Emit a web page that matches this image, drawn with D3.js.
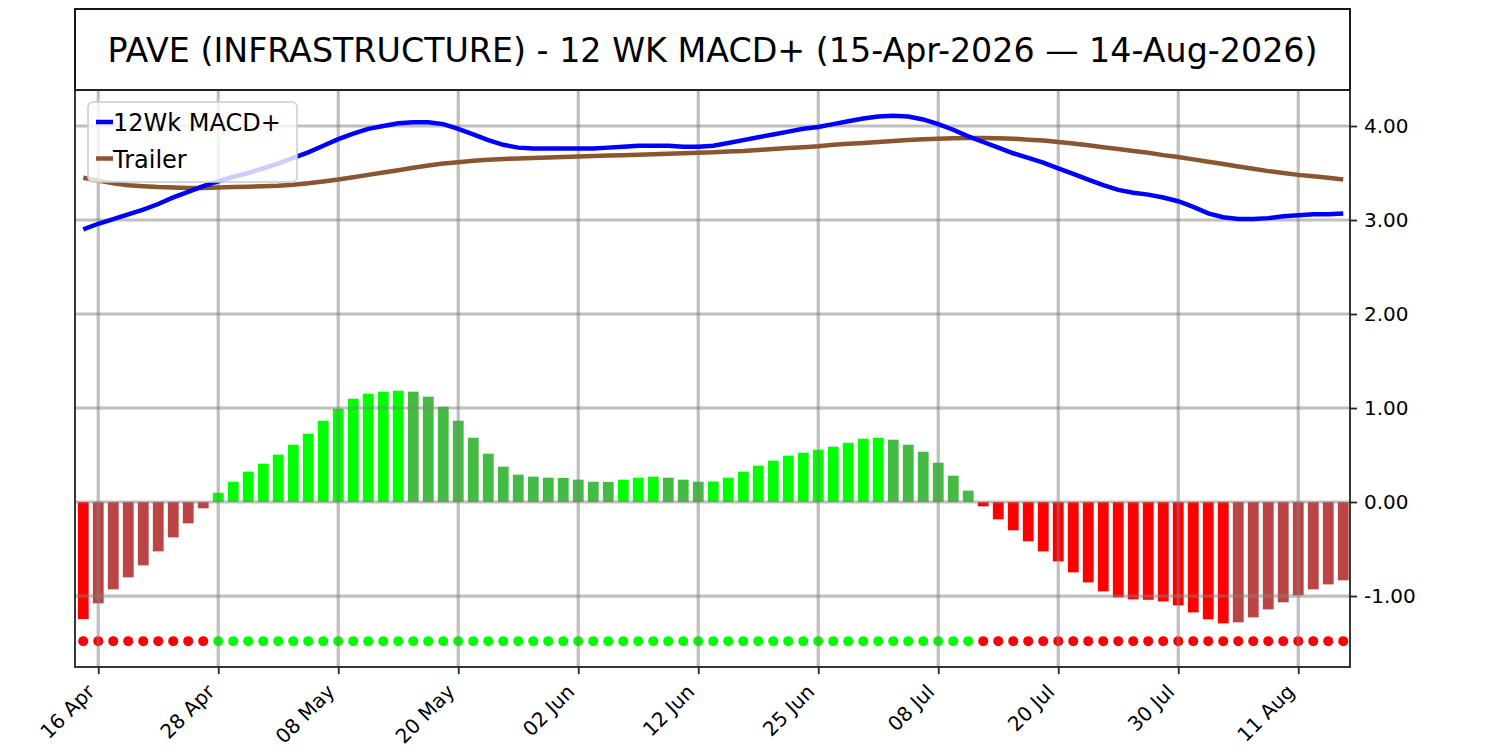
<!DOCTYPE html>
<html>
<head>
<meta charset="utf-8">
<script src="https://cdn.jsdelivr.net/npm/d3@7"></script>
<style>
  body { margin: 0; background: #ffffff; }
  svg text { font-family: "DejaVu Sans", sans-serif; }
</style>
</head>
<body>
<div id="chart-area"></div>
<script>

// Trading days shown on the chart (15 Apr 2026 - 14 Aug 2026)
var dates = [
  "15 Apr","16 Apr","17 Apr","20 Apr","21 Apr","22 Apr","23 Apr","24 Apr","27 Apr","28 Apr","29 Apr","30 Apr",
  "01 May","04 May","05 May","06 May","07 May","08 May","11 May","12 May","13 May","14 May","15 May","18 May",
  "19 May","20 May","21 May","22 May","26 May","27 May","28 May","29 May",
  "01 Jun","02 Jun","03 Jun","04 Jun","05 Jun","08 Jun","09 Jun","10 Jun","11 Jun","12 Jun","15 Jun","16 Jun",
  "17 Jun","18 Jun","22 Jun","23 Jun","24 Jun","25 Jun","26 Jun","29 Jun","30 Jun",
  "01 Jul","02 Jul","06 Jul","07 Jul","08 Jul","09 Jul","10 Jul","13 Jul","14 Jul","15 Jul","16 Jul","17 Jul",
  "20 Jul","21 Jul","22 Jul","23 Jul","24 Jul","27 Jul","28 Jul","29 Jul","30 Jul","31 Jul",
  "03 Aug","04 Aug","05 Aug","06 Aug","07 Aug","10 Aug","11 Aug","12 Aug","13 Aug","14 Aug"
];

// 12Wk MACD+ line
var macdValues = [
  2.90, 2.96, 3.01, 3.06, 3.11, 3.17, 3.24, 3.30, 3.36, 3.41,
  3.46, 3.50, 3.55, 3.60, 3.66, 3.72, 3.79, 3.86, 3.92, 3.97,
  4.00, 4.03, 4.04, 4.04, 4.02, 3.97, 3.91, 3.85, 3.80, 3.77,
  3.76, 3.76, 3.76, 3.76, 3.76, 3.77, 3.78, 3.79, 3.79, 3.79,
  3.78, 3.78, 3.79, 3.82, 3.85, 3.88, 3.91, 3.94, 3.97, 3.99,
  4.02, 4.05, 4.08, 4.10, 4.11, 4.10, 4.07, 4.02, 3.96, 3.89,
  3.83, 3.77, 3.71, 3.66, 3.61, 3.55, 3.49, 3.43, 3.37, 3.32,
  3.29, 3.27, 3.24, 3.20, 3.14, 3.07, 3.03, 3.01, 3.01, 3.02,
  3.04, 3.05, 3.06, 3.06, 3.07
];

// Trailer (signal) line
var trailerValues = [
  3.45, 3.42, 3.39, 3.37, 3.36, 3.35, 3.345, 3.34, 3.34, 3.345,
  3.35, 3.355, 3.36, 3.365, 3.375, 3.39, 3.41, 3.43, 3.455, 3.48,
  3.505, 3.53, 3.555, 3.58, 3.60, 3.615, 3.63, 3.64, 3.65, 3.655,
  3.66, 3.665, 3.67, 3.675, 3.68, 3.685, 3.69, 3.695, 3.70, 3.705,
  3.71, 3.715, 3.72, 3.73, 3.735, 3.745, 3.755, 3.765, 3.775, 3.785,
  3.80, 3.81, 3.82, 3.83, 3.84, 3.85, 3.86, 3.865, 3.87, 3.872,
  3.873, 3.87, 3.865, 3.855, 3.845, 3.83, 3.815, 3.795, 3.775, 3.755,
  3.735, 3.715, 3.69, 3.67, 3.645, 3.62, 3.595, 3.57, 3.545, 3.52,
  3.50, 3.48, 3.465, 3.45, 3.43
];

// Histogram
var histValues = [
  -1.245, -1.078, -0.929, -0.801, -0.674, -0.525, -0.376, -0.227, -0.067, 0.099,
  0.216, 0.323, 0.408, 0.504, 0.610, 0.727, 0.865, 0.993, 1.099, 1.152,
  1.174, 1.184, 1.174, 1.121, 1.014, 0.865, 0.684, 0.514, 0.376, 0.291,
  0.270, 0.259, 0.256, 0.238, 0.216, 0.213, 0.238, 0.259, 0.270, 0.259,
  0.238, 0.216, 0.219, 0.259, 0.323, 0.387, 0.440, 0.493, 0.525, 0.557,
  0.589, 0.631, 0.674, 0.684, 0.663, 0.610, 0.535, 0.418, 0.280, 0.121,
  -0.046, -0.184, -0.301, -0.418, -0.525, -0.631, -0.748, -0.855, -0.950, -1.014,
  -1.035, -1.040, -1.057, -1.099, -1.174, -1.248, -1.291, -1.280, -1.227, -1.142,
  -1.067, -0.993, -0.929, -0.876, -0.833
];

// Level of the signal dot row
var dotLevel = -1.48;

var yTicks = [-1, 0, 1, 2, 3, 4];
var tickEvery = 8, firstTick = 1;

var titleText = "PAVE (INFRASTRUCTURE) - 12 WK MACD+ (15-Apr-2026 \u2014 14-Aug-2026)";
var seriesNames = ["12Wk MACD+", "Trailer"];


// Layout
var width = 1500, height = 750;
var plot = {left: 75, right: 1350, top: 90, bottom: 667};
var titleBox = {top: 9, bottom: 90};

var svg = d3.select("#chart-area").append("svg")
    .attr("width", width)
    .attr("height", height);

// Scales
var x = d3.scaleLinear()
    .domain([-0.55, dates.length - 0.55])
    .range([plot.left, plot.right]);

var y = d3.scaleLinear()
    .domain([-1.755, 4.383])
    .range([plot.bottom, plot.top]);

var data = dates.map(function(d, i){
  return {i: i, date: d, macd: macdValues[i], trailer: trailerValues[i], hist: histValues[i]};
});

// Bar colours: bright when moving away from zero, muted when coming back
function barColor(d){
  var prev = d.i > 0 ? histValues[d.i - 1] : null;
  if(d.hist < 0){
    return (prev !== null && d.hist > prev) ? "#bb4444" : "#ff0000";
  }
  return (prev === null || d.hist > prev) ? "#00ff00" : "#44bb44";
}

var bw = (x(1) - x(0)) * 0.72;

// Title box
svg.append("rect")
    .attr("x", plot.left)
    .attr("y", titleBox.top)
    .attr("width", plot.right - plot.left)
    .attr("height", titleBox.bottom - titleBox.top)
    .attr("fill", "none")
    .attr("stroke", "#000")
    .attr("stroke-width", 1.8);

svg.append("text")
    .attr("x", (plot.left + plot.right) / 2)
    .attr("y", 61.5)
    .attr("text-anchor", "middle")
    .attr("font-size", 33.3)
    .attr("fill", "#000")
    .text(titleText);

var g = svg.append("g");

// Histogram bars
g.selectAll("rect.bar").data(data).enter().append("rect")
    .attr("class", "bar")
    .attr("x", function(d){ return x(d.i) - bw / 2; })
    .attr("width", bw)
    .attr("y", function(d){ return y(Math.max(0, d.hist)); })
    .attr("height", function(d){ return Math.abs(y(d.hist) - y(0)); })
    .attr("fill", barColor);

// Dot row
g.selectAll("circle.dot").data(data).enter().append("circle")
    .attr("class", "dot")
    .attr("cx", function(d){ return x(d.i); })
    .attr("cy", y(dotLevel))
    .attr("r", 5)
    .attr("fill", function(d){ return d.hist < 0 ? "#ff0000" : "#00ff00"; });

// Grid (above the bars, below the lines)
var tickIdx = d3.range(firstTick, dates.length, tickEvery);

g.selectAll("line.hgrid").data(yTicks).enter().append("line")
    .attr("x1", plot.left).attr("x2", plot.right)
    .attr("y1", function(d){ return y(d); })
    .attr("y2", function(d){ return y(d); })
    .attr("stroke", "#808080")
    .attr("stroke-opacity", 0.5)
    .attr("stroke-width", 3.2);

g.selectAll("line.vgrid").data(tickIdx).enter().append("line")
    .attr("x1", function(d){ return x(d); })
    .attr("x2", function(d){ return x(d); })
    .attr("y1", plot.top).attr("y2", plot.bottom)
    .attr("stroke", "#808080")
    .attr("stroke-opacity", 0.5)
    .attr("stroke-width", 3.2);

// Lines
var macdLine = d3.line().x(function(d){ return x(d.i); }).y(function(d){ return y(d.macd); });
var trailerLine = d3.line().x(function(d){ return x(d.i); }).y(function(d){ return y(d.trailer); });

g.append("path").datum(data)
    .attr("d", trailerLine)
    .attr("fill", "none")
    .attr("stroke", "#8b552d")
    .attr("stroke-width", 4.5);

g.append("path").datum(data)
    .attr("d", macdLine)
    .attr("fill", "none")
    .attr("stroke", "#0000ff")
    .attr("stroke-width", 4.5);

// Frame
svg.append("rect")
    .attr("x", plot.left)
    .attr("y", plot.top)
    .attr("width", plot.right - plot.left)
    .attr("height", plot.bottom - plot.top)
    .attr("fill", "none")
    .attr("stroke", "#222")
    .attr("stroke-width", 1.8);

// Right y axis (plain hyphen for negatives)
var yAxis = d3.axisRight(y)
    .tickValues(yTicks)
    .tickFormat(function(d){ return d.toFixed(2); })
    .tickSize(7)
    .tickPadding(7);

svg.append("g")
    .attr("class", "y-axis")
    .attr("transform", "translate(" + plot.right + ",0)")
    .call(yAxis)
    .call(function(a){
      a.select(".domain").remove();
      a.selectAll(".tick line").attr("stroke", "#222").attr("stroke-width", 1.8);
      a.selectAll(".tick text").attr("font-size", 20).attr("fill", "#000")
        .attr("font-family", "DejaVu Sans");
    });

// Bottom x axis
var xAxis = d3.axisBottom(x)
    .tickValues(tickIdx)
    .tickFormat(function(d){ return dates[d]; })
    .tickSize(7);

svg.append("g")
    .attr("class", "x-axis")
    .attr("transform", "translate(0," + plot.bottom + ")")
    .call(xAxis)
    .call(function(a){
      a.select(".domain").remove();
      a.selectAll(".tick line").attr("stroke", "#222").attr("stroke-width", 1.8);
      a.selectAll(".tick text")
        .attr("font-size", 20)
        .attr("fill", "#000")
        .attr("font-family", "DejaVu Sans")
        .attr("text-anchor", "end")
        .attr("dy", null)
        .attr("y", null)
        .attr("transform", "translate(-3,26) rotate(-45)");
    });

// Legend
var legend = svg.append("g").attr("transform", "translate(88,102)");

legend.append("rect")
    .attr("width", 209)
    .attr("height", 80)
    .attr("rx", 5)
    .attr("fill", "#ffffff")
    .attr("fill-opacity", 0.8)
    .attr("stroke", "#cccccc")
    .attr("stroke-width", 1.5);

var legendColors = ["#0000ff", "#8b552d"];
seriesNames.forEach(function(name, k){
  var ly = 20 + k * 36.5;
  legend.append("line")
      .attr("x1", 8).attr("x2", 25)
      .attr("y1", ly).attr("y2", ly)
      .attr("stroke", legendColors[k])
      .attr("stroke-width", 4.5);
  legend.append("text")
      .attr("x", 25)
      .attr("y", ly + 9)
      .attr("font-size", 24)
      .attr("fill", "#000")
      .text(name);
});

</script>
</body>
</html>
